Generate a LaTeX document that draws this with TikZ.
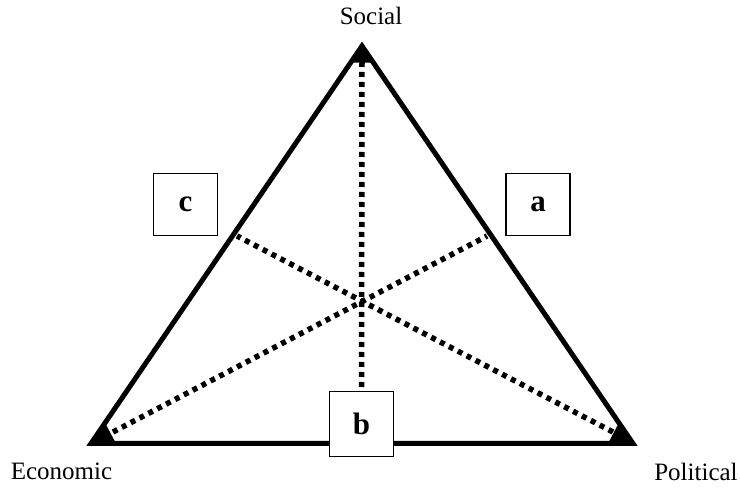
\documentclass[tikz,border=0pt]{standalone}
\usepackage{fontspec}
\setmainfont{Liberation Serif}
\usetikzlibrary{positioning,calc}

\begin{document}
\begin{tikzpicture}[x=1pt,y=-1pt,
    side/.style={line width=5pt,line join=miter},
    median/.style={line width=5.5pt,dash pattern=on 5pt off 5pt},
    tip/.style={fill=black},
    boxlbl/.style={draw,line width=1.4pt,fill=white,minimum width=64pt,minimum height=62pt,inner sep=0pt,font=\fontsize{31}{36}\selectfont\bfseries},
    vertlbl/.style={font=\fontsize{25}{30}\selectfont}]
  \useasboundingbox (0,0) rectangle (740,489);

  \coordinate (soc) at (362,46);
  \coordinate (eco) at (91,443.5);
  \coordinate (pol) at (633,443.5);

  % feet of the dotted lines
  \coordinate (socfoot) at (362,62);
  \coordinate (ecofoot) at (113,432);
  \coordinate (polfoot) at (613,432);
  \coordinate (ma) at (487,236);
  \coordinate (mc) at (237,236);

  \node[boxlbl] (a) at (538,204.5) {a};
  \node[boxlbl] (c) at (185.5,204.5) {c};
  \node[boxlbl,minimum height=65pt] (b) at (361.5,424) {b};

  \draw[median] (socfoot) -- (b.north);
  \draw[median] (ecofoot) -- (ma);
  \draw[median] (polfoot) -- (mc);

  \fill[tip] (soc) -- ($(soc)!20pt!(eco)$) -- ($(soc)!20pt!(pol)$) -- cycle;
  \fill[tip] (eco) -- ($(eco)!25pt!(soc)$) -- ($(eco)!25pt!(pol)$) -- cycle;
  \fill[tip] (pol) -- ($(pol)!25pt!(soc)$) -- ($(pol)!25pt!(eco)$) -- cycle;

  \draw[side] (soc) -- (eco) -- (pol) -- cycle;

  % boxes drawn again on top of the sides
  \node[boxlbl,minimum height=65pt] at (b) {b};

  \node[vertlbl] (social) at (371,16) {Social};
  \node[vertlbl] (economic) at (61.5,471) {Economic};
  \node[vertlbl] (political) at (696,472) {Political};
\end{tikzpicture}
\end{document}
